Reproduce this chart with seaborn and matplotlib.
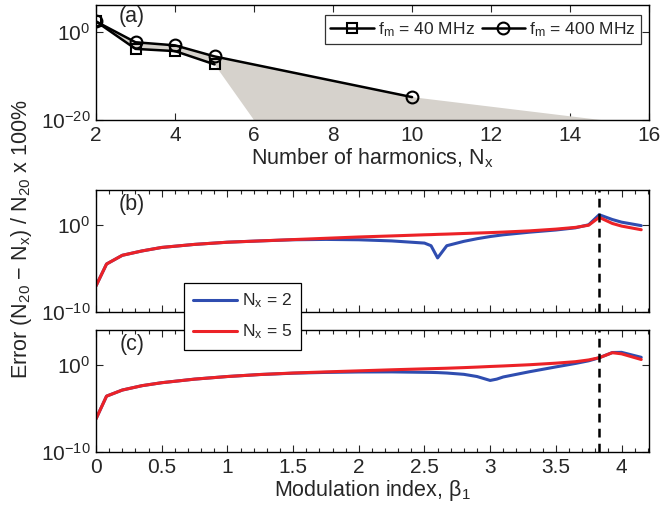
import numpy as np
import pandas as pd
import matplotlib
matplotlib.use("Agg")
import matplotlib.pyplot as plt
from matplotlib.ticker import FixedLocator, MultipleLocator, NullFormatter, NullLocator, FuncFormatter
import seaborn as sns

sns.set_style("ticks")
plt.rcParams['font.family'] = ['Liberation Sans', 'DejaVu Sans']
plt.rcParams['mathtext.fontset'] = 'custom'
plt.rcParams['mathtext.rm'] = 'Liberation Sans'
plt.rcParams['mathtext.it'] = 'Liberation Sans:italic'
plt.rcParams['font.size'] = 15

# ---- panel (a): error vs number of harmonics (log10 of error) ----
n_40 = [2, 3, 4, 5]
exp_40 = [2.3, -3.9, -4.4, -7.4]
n_400 = [2, 3, 4, 5, 10]
exp_400 = [2.3, -2.4, -3.1, -5.6, -14.8]
# where each curve leaves the axes at the bottom (10^-20)
n_40_exit, n_400_exit = 6, 14.8

# ---- panels (b), (c): error vs modulation index (log10 of error) ----
beta = [0, 0.08, 0.2, 0.35, 0.5, 0.75, 1.0, 1.25, 1.5, 1.75, 2.0, 2.25, 2.5, 2.55,
        2.6, 2.67, 2.8, 2.9, 3.0, 3.05, 3.1, 3.3, 3.5, 3.65, 3.75, 3.83, 3.93, 4.0, 4.15]
b_nx2 = [-7.0, -4.5, -3.5, -3.0, -2.6, -2.25, -2.0, -1.85, -1.72, -1.68, -1.72, -1.85, -2.1, -2.4,
         -3.8, -2.4, -1.9, -1.6, -1.35, -1.25, -1.15, -0.85, -0.6, -0.35, 0.0, 1.15, 0.6, 0.3, -0.1]
b_nx5 = [-7.0, -4.5, -3.5, -3.0, -2.6, -2.25, -2.0, -1.85, -1.7, -1.55, -1.4, -1.28, -1.15, -1.13,
         -1.1, -1.07, -1.0, -0.95, -0.9, -0.87, -0.84, -0.7, -0.5, -0.3, -0.05, 0.85, 0.15, -0.15, -0.57]
c_nx2 = [-6.2, -3.6, -2.9, -2.4, -2.06, -1.65, -1.35, -1.12, -0.97, -0.88, -0.83, -0.82, -0.87, -0.88,
         -0.9, -0.95, -1.1, -1.35, -1.8, -1.65, -1.4, -0.8, -0.25, 0.15, 0.45, 0.8, 1.4, 1.42, 0.85]
c_nx5 = [-6.2, -3.6, -2.9, -2.4, -2.06, -1.65, -1.35, -1.12, -0.95, -0.82, -0.7, -0.58, -0.47, -0.45,
         -0.43, -0.4, -0.33, -0.27, -0.2, -0.17, -0.14, 0.0, 0.18, 0.35, 0.55, 0.8, 1.38, 1.25, 0.6]
beta_crit = 3.8317  # first zero of J1

blue = '#2f4db0'
red = '#ec2227'
shade = '#d6d2cc'

fig = plt.figure(figsize=(6.6, 5.09), dpi=100)
ax_a = fig.add_axes([0.1455, 0.764, 0.838, 0.226])
ax_b = fig.add_axes([0.1455, 0.387, 0.838, 0.240])
ax_c = fig.add_axes([0.1455, 0.112, 0.838, 0.240])


def style_axis(ax):
    ax.tick_params(which='both', direction='in', top=True, right=True, width=0.8, labelsize=15)
    ax.tick_params(which='major', length=5, pad=4)
    ax.tick_params(which='minor', length=3)
    for s in ax.spines.values():
        s.set_linewidth(1.0)
        s.set_color('k')


# panel (a)
ax_a.set_yscale('log')
lo_n = n_40 + [n_40_exit]
lo_v = [10.0 ** e for e in exp_40] + [1e-20]
hi_n = n_400 + [n_400_exit]
hi_v = [10.0 ** e for e in exp_400] + [1e-20]
ax_a.fill(hi_n + lo_n[::-1], hi_v + lo_v[::-1], color=shade, lw=0, zorder=1)
df40 = pd.DataFrame({'n': n_40, 'err': [10.0 ** e for e in exp_40]})
df400 = pd.DataFrame({'n': n_400, 'err': [10.0 ** e for e in exp_400]})
sns.lineplot(data=df40, x='n', y='err', ax=ax_a, color='k', lw=1.8, marker='s', ms=7.5,
             mfc='none', mec='k', mew=1.5, label='f$_\\mathregular{m}$ = 40 MHz', zorder=3)
sns.lineplot(data=df400, x='n', y='err', ax=ax_a, color='k', lw=1.8, marker='o', ms=8.5,
             mfc='none', mec='k', mew=1.5, label='f$_\\mathregular{m}$ = 400 MHz', zorder=3)
ax_a.set_xlim(2, 16)
ax_a.set_ylim(1e-20, 10 ** 6)
ax_a.xaxis.set_major_locator(MultipleLocator(2))
ax_a.yaxis.set_major_locator(FixedLocator([1e-20, 1e0]))
ax_a.yaxis.set_minor_locator(NullLocator())
ax_a.set_xlabel('Number of harmonics, N$_\\mathregular{x}$', fontsize=15.5, labelpad=1)
ax_a.set_ylabel('')
style_axis(ax_a)
leg = ax_a.legend(loc='upper right', bbox_to_anchor=(0.985, 0.915), ncol=2, fontsize=12.6,
                  frameon=True, fancybox=False, edgecolor='k', borderaxespad=0,
                  handlelength=2.5, columnspacing=0.4, handletextpad=0.2, borderpad=0.3)
leg.get_frame().set_linewidth(0.9)
ax_a.text(0.065, 0.9, '(a)', transform=ax_a.transAxes, fontsize=15.5, ha='center', va='center')

# panels (b) and (c)
for ax, v2, v5, tag in [(ax_b, b_nx2, b_nx5, '(b)'), (ax_c, c_nx2, c_nx5, '(c)')]:
    ax.set_yscale('log')
    d = pd.DataFrame({'beta': beta, 'n2': [10.0 ** e for e in v2], 'n5': [10.0 ** e for e in v5]})
    sns.lineplot(data=d, x='beta', y='n2', ax=ax, color=blue, lw=2.2, label='N$_\\mathregular{x}$ = 2')
    sns.lineplot(data=d, x='beta', y='n5', ax=ax, color=red, lw=2.2, label='N$_\\mathregular{x}$ = 5')
    ax.axvline(beta_crit, color='k', lw=1.8, ls=(0, (3.5, 2.5)), zorder=4)
    ax.set_xlim(0, 4.21)
    ax.set_ylim(1e-10, 1e4)
    ax.xaxis.set_major_locator(MultipleLocator(0.5))
    ax.xaxis.set_minor_locator(MultipleLocator(0.1))
    ax.yaxis.set_major_locator(FixedLocator([1e-10, 1e0]))
    ax.yaxis.set_minor_locator(NullLocator())
    ax.set_ylabel('')
    ax.set_xlabel('')
    style_axis(ax)
    ax.get_legend().remove()
    ax.text(0.065, 0.88, tag, transform=ax.transAxes, fontsize=15.5, ha='center', va='center')

ax_b.xaxis.set_major_formatter(NullFormatter())
ax_c.xaxis.set_major_formatter(FuncFormatter(lambda v, p: f'{v:g}'))
ax_c.set_xlabel('Modulation index, \u03b2$_\\mathregular{1}$', fontsize=15.5, labelpad=1)

handles, labels = ax_c.get_legend_handles_labels()
fleg = fig.legend(handles, labels, loc='upper left', bbox_to_anchor=(0.279, 0.444), fontsize=12.6,
                  frameon=True, fancybox=False, edgecolor='k', handlelength=2.5, borderaxespad=0,
                  handletextpad=0.3, labelspacing=0.7, borderpad=0.5, framealpha=1)
fleg.get_frame().set_linewidth(0.9)

fig.text(0.033, 0.53, 'Error (N$_\\mathregular{20}$ \u2212 N$_\\mathregular{x}$) / N$_\\mathregular{20}$ x 100%',
         rotation=90, ha='center', va='center', fontsize=15.5)

fig.savefig('out.png', dpi=100)
